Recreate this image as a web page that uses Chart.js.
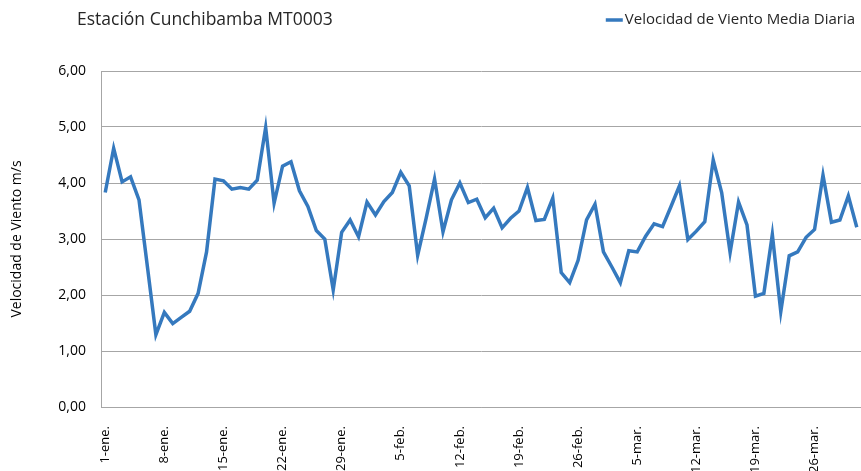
<!DOCTYPE html>
<html>
<head>
<meta charset="utf-8">
<script src="https://cdn.jsdelivr.net/npm/chart.js@4/dist/chart.umd.min.js"></script>
<style>
html,body{margin:0;padding:0;background:#fff;}
#wrap{width:861px;height:471px;position:relative;}
</style>
</head>
<body>
<div id="wrap"><canvas id="c" width="861" height="471"></canvas></div>
<script>
const chartTitle = "Estación Cunchibamba MT0003";
const seriesName = "Velocidad de Viento Media Diaria";
const yAxisTitle = "Velocidad de Viento m/s";
const months = ["ene.", "feb.", "mar."];
const monthDays = [31, 28, 31];
const yTicks = [0, 1, 2, 3, 4, 5, 6];
const windSpeed = [
  3.83, 4.62, 4.02, 4.11, 3.70, 2.50, 1.29, 1.69, 1.49, 1.60,
  1.71, 2.03, 2.77, 4.07, 4.04, 3.89, 3.92, 3.89, 4.05, 4.99,
  3.64, 4.30, 4.38, 3.86, 3.58, 3.15, 3.00, 2.09, 3.12, 3.34,
  3.04, 3.66, 3.43, 3.67, 3.83, 4.19, 3.95, 2.71, 3.37, 4.07,
  3.13, 3.70, 4.00, 3.65, 3.71, 3.38, 3.55, 3.20, 3.37, 3.50,
  3.92, 3.33, 3.35, 3.73, 2.40, 2.22, 2.62, 3.34, 3.62, 2.77,
  2.50, 2.22, 2.79, 2.77, 3.05, 3.27, 3.22, 3.58, 3.95, 2.99,
  3.14, 3.31, 4.41, 3.83, 2.76, 3.66, 3.25, 1.98, 2.03, 3.08,
  1.70, 2.70, 2.77, 3.03, 3.17, 4.14, 3.30, 3.34, 3.77, 3.21
];
// build day labels "1-ene." ... "31-mar."
const dayLabels = [];
months.forEach((m, i) => { for (let d = 1; d <= monthDays[i]; d++) dayLabels.push(d + "-" + m); });

const lineColor = "#3579BE";
const FONT = "'Open Sans', 'Liberation Sans', sans-serif";

const headerPlugin = {
  id: "header",
  afterDraw(chart) {
    const ctx = chart.ctx;
    ctx.save();
    ctx.fillStyle = "#262626";
    ctx.textBaseline = "middle";
    ctx.font = "17.5px " + FONT;
    ctx.textAlign = "left";
    ctx.fillText(chartTitle, 77, 20);
    ctx.font = "15px " + FONT;
    ctx.textAlign = "right";
    const right = 855;
    ctx.fillText(seriesName, right, 20);
    const w = ctx.measureText(seriesName).width;
    ctx.strokeStyle = lineColor;
    ctx.lineWidth = 3.5;
    ctx.beginPath();
    ctx.moveTo(right - w - 19, 20);
    ctx.lineTo(right - w - 2, 20);
    ctx.stroke();
    ctx.restore();
  }
};

new Chart(document.getElementById("c"), {
  type: "line",
  data: {
    labels: dayLabels,
    datasets: [{
      label: seriesName,
      data: windSpeed,
      borderColor: lineColor,
      backgroundColor: lineColor,
      borderWidth: 3.5,
      pointRadius: 0,
      pointHoverRadius: 0,
      tension: 0,
      fill: false
    }]
  },
  options: {
    responsive: false,
    animation: false,
    devicePixelRatio: 1,
    layout: { padding: { top: 71, right: 0, bottom: 0, left: 0 } },
    plugins: {
      legend: { display: false },
      title: { display: false },
      tooltip: { enabled: false }
    },
    scales: {
      x: {
        type: "category",
        offset: true,
        grid: { display: false, drawTicks: false },
        border: { display: true, color: "#a6a6a6", width: 1 },
        ticks: {
          autoSkip: false,
          minRotation: 90,
          maxRotation: 90,
          padding: 19,
          color: "#000",
          font: { family: FONT, size: 13 },
          callback: function (val, idx) { return idx % 7 === 0 ? this.getLabelForValue(val) : ""; }
        },
        afterFit(scale) { scale.height = 64; scale.paddingRight = 0; scale.paddingLeft = 0; }
      },
      y: {
        min: 0,
        max: 6,
        afterBuildTicks(scale) { scale.ticks = yTicks.map(v => ({ value: v })); },
        grid: { color: "#a6a6a6", lineWidth: 1, drawTicks: false },
        border: { display: true, color: "#a6a6a6", width: 1 },
        ticks: {
          padding: 15,
          color: "#000",
          font: { family: FONT, size: 14 },
          callback: v => v.toFixed(2).replace(".", ",")
        },
        title: {
          display: true,
          text: yAxisTitle,
          color: "#000",
          font: { family: FONT, size: 14 },
          padding: { top: 9, bottom: 0 }
        },
        afterFit(scale) { scale.width = 101; scale.paddingTop = 0; scale.paddingBottom = 0; }
      }
    }
  },
  plugins: [headerPlugin]
});
</script>
</body>
</html>
